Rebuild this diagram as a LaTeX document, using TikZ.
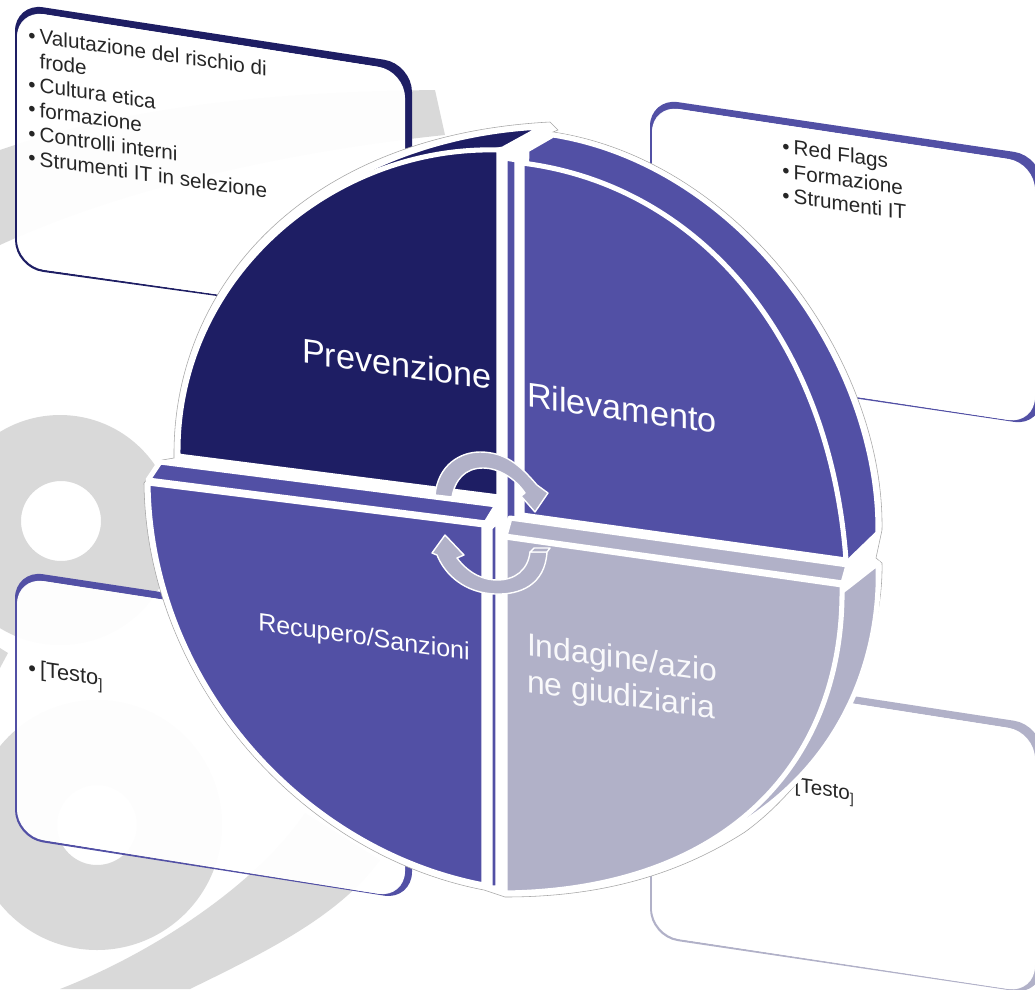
\documentclass[tikz,border=0pt]{standalone}
\usepackage{fontspec}
\setmainfont{Liberation Sans}
\definecolor{navyc}{HTML}{1E1E64}
\definecolor{bluec}{HTML}{5250A5}
\definecolor{palec}{HTML}{B1B1C8}
\definecolor{backc}{HTML}{D9D9D9}
\tikzset{
	listtxt/.style={yslant=-0.14, transform shape, anchor=north west, align=left, inner sep=0pt, font=\fontsize{14.7}{17.4}\selectfont, text=black!85},
	disctxt/.style={yslant=-0.14, transform shape, align=left, inner sep=0pt, text=#1},
	piece/.style={fill=#1, draw=white, line width=3.6pt, line join=round},
	turn/.style={fill=palec, draw=white, line width=1pt, line join=round}
}
\newcommand{\itemb}{\textbullet\hspace{3pt}}
\newcommand{\infobox}[7]{%
	\fill[#1, even odd rule, rounded corners=20pt] (#2,#3) -- (#4,#5) -- (#4,#6) -- (#2,#7) -- cycle
		(#2+2,#3+7) -- (#4-7,#5+7) -- (#4-7,#6-2) -- (#2+2,#7-2) -- cycle;
	\fill[white, fill opacity=.96, rounded corners=19pt] (#2+2,#3+7) -- (#4-7,#5+7) -- (#4-7,#6-2) -- (#2+2,#7-2) -- cycle;
}
\begin{document}
\begin{tikzpicture}[x=0.025cm, y=-0.025cm]
	\useasboundingbox (0,0) rectangle (1035,989);
	\clip (0,0) rectangle (1035,989);
	% grey rings behind the boxes
	\fill[backc, even odd rule] (60,530) circle (115) (61,521) circle (40);
	\fill[backc, even odd rule] (97,825) circle (125) (97,825) circle (40);
	\fill[backc] (0,150) .. controls (130,105) and (280,92) .. (435,90) -- (445,135) .. controls (300,150) and (130,185) .. (0,245) -- cycle;
	\fill[backc] (305,813) .. controls (260,880) and (160,950) .. (60,989) -- (190,989) .. controls (270,950) and (340,915) .. (380,860) -- cycle;
	\fill[backc] (0,648) -- (8,653) -- (0,668) -- cycle;

	% text boxes
	\infobox{navyc}{15}{3}{412}{64}{323}{268}
	\infobox{bluec}{650}{98}{1042}{156}{426}{368}
	\infobox{palec}{650}{665}{1042}{725}{995}{937}
	\infobox{bluec}{15}{570}{412}{630}{900}{838}

	\node[listtxt] (preventxt) at (28,27) {\itemb Valutazione del rischio di\\\hspace*{8pt}frode\\\itemb Cultura etica\\\itemb formazione\\\itemb Controlli interni\\\itemb Strumenti IT in selezione};
	\node[listtxt] (rilevtxt) at (782,138) {\itemb Red Flags\\\itemb Formazione\\\itemb Strumenti IT};
	\node[listtxt] (indagtxt) at (783,775) {\itemb [Testo\textsubscript{]}};
	\node[listtxt, font=\fontsize{15.5}{18}\selectfont] (recuptxt) at (28,659) {\itemb [Testo\textsubscript{]}};

	% outline of the disc
	\draw[fill=white, draw=black!35, line width=.4pt] (174,458) .. controls (172,290) and (300,135) .. (550,122) -- (558,130) -- (553,132)
		.. controls (740,160) and (885,360) .. (882,530) -- (876,558) -- (882,563) .. controls (884,650) and (830,770) .. (745,832)
		.. controls (670,880) and (590,897) .. (505,897) -- (484,890) .. controls (300,855) and (146,680) .. (144,483) -- (162,460) -- cycle;

	% sides of the disc
	\draw[piece=navyc] (345,182) .. controls (400,150) and (470,130) .. (543,127) -- (503,149) -- cycle;
	\draw[piece=bluec] (527,150) -- (553,135) .. controls (740,165) and (880,360) .. (878,533) -- (848,562) -- (522,300) -- cycle;
	\draw[piece=palec] (850,585) -- (878,563) .. controls (882,660) and (840,770) .. (728,832) -- (700,700) -- cycle;

	% front faces
	\draw[piece=navyc] (499,150) .. controls (330,145) and (175,280) .. (178,456) -- (499,497) -- cycle;
	\draw[piece=bluec] (505,158) -- (517,160) -- (517,518) -- (505,525) -- cycle;
	\draw[piece=bluec] (522,163) .. controls (700,185) and (830,340) .. (846,560) -- (522,515) -- cycle;
	\draw[piece=palec] (510,518) -- (848,565) -- (843,583) -- (505,536) -- cycle;
	\draw[piece=bluec] (160,462) -- (497,505) -- (486,523) -- (148,480) -- cycle;
	\draw[piece=bluec] (490,528) -- (498,520) -- (498,888) -- (490,888) -- cycle;
	\draw[piece=bluec] (148,483) -- (484,525) -- (484,885) .. controls (300,850) and (150,680) .. (148,483) -- cycle;
	\draw[piece=palec] (505,537) -- (842,585) .. controls (845,760) and (730,890) .. (505,893) -- cycle;

	% cycle arrows
	\draw[turn] (435,495) .. controls (438,465) and (460,452) .. (480,452) .. controls (505,452) and (520,465) .. (537,485) -- (548,493) -- (535,512) -- (521,496) -- (525,493)
		.. controls (515,478) and (498,468) .. (483,468) .. controls (465,468) and (455,480) .. (452,497) -- cycle;
	\draw[turn] (547,552) .. controls (545,585) and (520,595) .. (495,594) .. controls (465,593) and (445,575) .. (437,555) -- (432,553) -- (445,535) -- (464,555) -- (457,558)
		.. controls (470,575) and (485,580) .. (497,580) .. controls (515,580) and (528,570) .. (530,552) -- cycle;
	\draw[turn] (530,552) -- (534,548) -- (550,548) -- (547,552) -- cycle;

	% labels on the disc
	\node[disctxt=white, font=\fontsize{24.3}{29}\selectfont] (preven) at (397,364) {Prevenzione};
	\node[disctxt=white, font=\fontsize{24.3}{29}\selectfont] (rilev) at (622,408) {Rilevamento};
	\node[disctxt=white, font=\fontsize{17.8}{21}\selectfont] (recup) at (364,639) {Recupero/Sanzioni};
	\node[disctxt=white!92!palec, font=\fontsize{22.7}{26}\selectfont] (indag) at (622,679) {Indagine/azio\\ne giudiziaria};
\end{tikzpicture}
\end{document}
